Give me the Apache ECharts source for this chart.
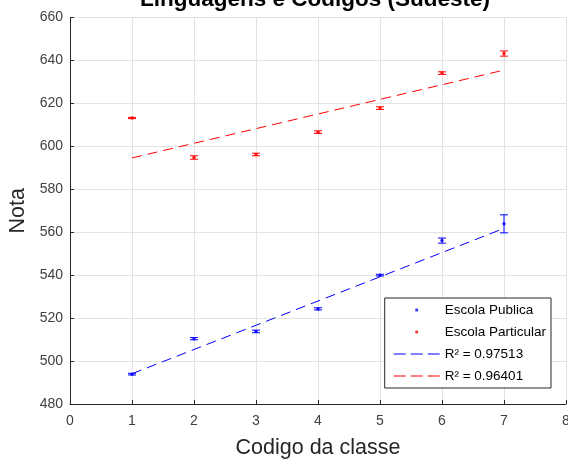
<!DOCTYPE html>
<html>
<head>
<meta charset="utf-8">
<script src="https://cdn.jsdelivr.net/npm/echarts@6/dist/echarts.min.js"></script>
<style>html,body{margin:0;padding:0;background:#fff;}#c{width:568px;height:459px;}</style>
</head>
<body>
<div id="c"></div>
<script>
// ---- data ----
const titleText = 'Linguagens e Codigos (Sudeste)';
const xName = 'Codigo da classe';
const yName = 'Nota';
const classCodes = [1, 2, 3, 4, 5, 6, 7];
const publicaMean = [493.9, 510.4, 513.8, 524.3, 540.0, 556.1, 563.9];
const publicaErr = [0.4, 0.5, 0.6, 0.5, 0.4, 1.2, 4.2];
const particularMean = [613.2, 594.8, 596.2, 606.6, 617.8, 634.1, 643.2];
const particularErr = [0.3, 0.8, 0.6, 0.6, 0.6, 0.6, 1.2];
const fitX = [1, 7];
const fitPublica = [494.1, 561.8];
const fitParticular = [594.6, 635.5];
const seriesNames = ['Escola Publica', 'Escola Particular', 'R² = 0.97513', 'R² = 0.96401'];
const xTicks = [0, 8, 1];
const yTicks = [480, 660, 20];

const BLUE = '#0000ff', RED = '#ff0000';
const FONT = 'Liberation Sans, Arial, Helvetica, sans-serif';

function pairs(xs, ys) { return xs.map((x, i) => [x, ys[i]]); }
function errData(xs, m, e) { return xs.map((x, i) => [x, m[i] - e[i], m[i] + e[i]]); }

function errRender(color) {
  return function (params, api) {
    const x = api.value(0), lo = api.value(1), hi = api.value(2);
    const a = api.coord([x, lo]), b = api.coord([x, hi]);
    const w = 4;
    const style = { stroke: color, lineWidth: 1, fill: null };
    return {
      type: 'group',
      children: [
        { type: 'line', shape: { x1: a[0], y1: a[1], x2: b[0], y2: b[1] }, style },
        { type: 'line', shape: { x1: a[0] - w, y1: a[1], x2: a[0] + w, y2: a[1] }, style },
        { type: 'line', shape: { x1: b[0] - w, y1: b[1], x2: b[0] + w, y2: b[1] }, style }
      ]
    };
  };
}

// legend icons (bounding points keep the icon box at full item size)
const dotIcon = 'path://M0,0 M46,0 M0,12 M46,12 M21.6,4.6 L24.4,4.6 L24.4,7.4 L21.6,7.4 Z';
const dashIcon = 'path://M0,0 M46,0 M0,12 M46,12 M0,5.5 L12,5.5 L12,6.5 L0,6.5 Z M17,5.5 L29,5.5 L29,6.5 L17,6.5 Z M34,5.5 L46,5.5 L46,6.5 L34,6.5 Z';

const chart = echarts.init(document.getElementById('c'), null, { renderer: 'canvas' });
chart.setOption({
  animation: false,
  backgroundColor: '#fff',
  textStyle: { fontFamily: FONT },
  title: {
    text: titleText,
    left: 315, textAlign: 'center',
    top: -12, padding: 0,
    textStyle: { fontSize: 22.5, fontWeight: 'bold', color: '#000', fontFamily: FONT }
  },
  grid: { left: 70, right: 2, top: 17.5, bottom: 55, containLabel: false, outerBoundsMode: 'none' },
  xAxis: {
    type: 'value', min: xTicks[0], max: xTicks[1], interval: xTicks[2],
    name: xName, nameLocation: 'middle', nameGap: 33,
    nameTextStyle: { fontSize: 21.5, color: '#262626', fontFamily: FONT },
    axisLine: { show: true, onZero: false, lineStyle: { color: '#262626', width: 1 } },
    axisTick: { show: true, inside: true, length: 4, lineStyle: { color: '#262626' } },
    axisLabel: { fontSize: 14, color: '#404040', margin: 10, fontFamily: FONT },
    splitLine: { show: true, lineStyle: { color: '#e3e3e3', width: 1 } }
  },
  yAxis: {
    type: 'value', min: yTicks[0], max: yTicks[1], interval: yTicks[2],
    name: yName, nameLocation: 'middle', nameGap: 37, nameRotate: 90,
    nameTextStyle: { fontSize: 21.5, color: '#262626', fontFamily: FONT },
    axisLine: { show: true, onZero: false, lineStyle: { color: '#262626', width: 1 } },
    axisTick: { show: true, inside: true, length: 4, lineStyle: { color: '#262626' } },
    axisLabel: { fontSize: 14, color: '#404040', margin: 7, fontFamily: FONT },
    splitLine: { show: true, lineStyle: { color: '#e3e3e3', width: 1 } }
  },
  legend: {
    orient: 'vertical',
    right: 17, bottom: 71,
    data: [
      { name: seriesNames[0], icon: dotIcon },
      { name: seriesNames[1], icon: dotIcon },
      { name: seriesNames[2], icon: dashIcon },
      { name: seriesNames[3], icon: dashIcon }
    ],
    itemWidth: 46, itemHeight: 12, itemGap: 8,
    padding: [5, 5, 5, 9],
    borderColor: '#262626', borderWidth: 1,
    backgroundColor: '#fff',
    textStyle: { fontSize: 13.5, color: '#000', fontFamily: FONT }
  },
  series: [
    {
      name: seriesNames[0], type: 'scatter', symbol: 'circle', symbolSize: 3.5,
      itemStyle: { color: BLUE }, data: pairs(classCodes, publicaMean), z: 5
    },
    {
      name: seriesNames[1], type: 'scatter', symbol: 'circle', symbolSize: 3.5,
      itemStyle: { color: RED }, data: pairs(classCodes, particularMean), z: 5
    },
    {
      name: seriesNames[2], type: 'line', symbol: 'none', showSymbol: false,
      lineStyle: { color: BLUE, width: 1, type: [10, 6] }, itemStyle: { color: BLUE },
      data: pairs(fitX, fitPublica), z: 3
    },
    {
      name: seriesNames[3], type: 'line', symbol: 'none', showSymbol: false,
      lineStyle: { color: RED, width: 1, type: [10, 6] }, itemStyle: { color: RED },
      data: pairs(fitX, fitParticular), z: 3
    },
    {
      name: 'errPublica', type: 'custom', renderItem: errRender(BLUE),
      data: errData(classCodes, publicaMean, publicaErr), z: 4, encode: { x: 0, y: [1, 2] }
    },
    {
      name: 'errParticular', type: 'custom', renderItem: errRender(RED),
      data: errData(classCodes, particularMean, particularErr), z: 4, encode: { x: 0, y: [1, 2] }
    }
  ]
});
</script>
</body>
</html>
